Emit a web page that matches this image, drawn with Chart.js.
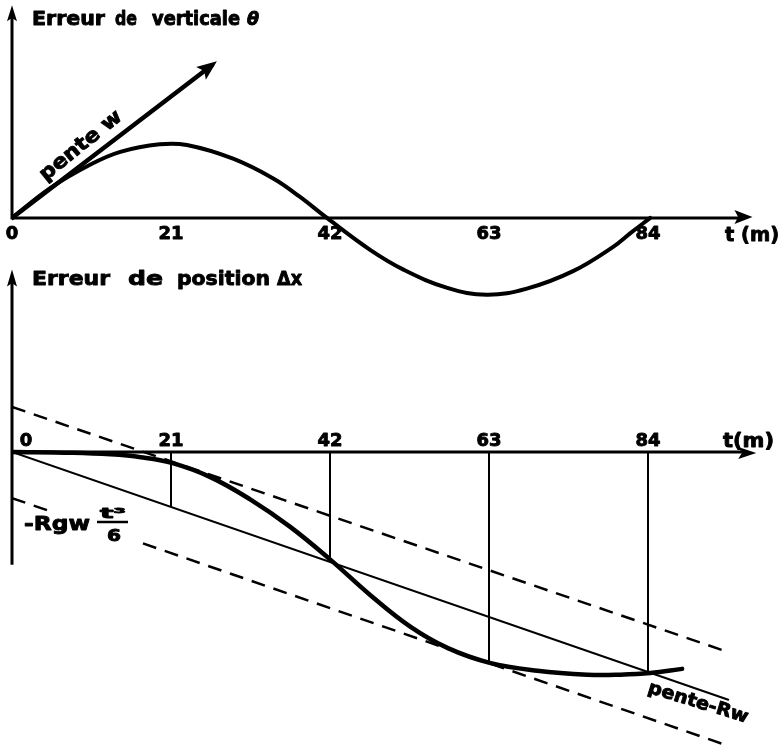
<!DOCTYPE html>
<html><head><meta charset="utf-8">
<script src="https://cdn.jsdelivr.net/npm/chart.js@4.4.0/dist/chart.umd.min.js"></script>
<style>
html,body{margin:0;padding:0;background:#fff;}
#wrap{position:relative;width:784px;height:751px;overflow:hidden;background:#fff;}
#c1{position:absolute;left:0;top:0;}
#c2{position:absolute;left:0;top:250px;}
</style></head><body>
<div id="wrap">
<canvas id="c1" width="784" height="310"></canvas>
<canvas id="c2" width="784" height="501"></canvas>
</div>
<script>
// ---------- data ----------
const tickValues = [0, 21, 42, 63, 84];
const tickLabels = ['0', '21', '42', '63', '84'];

// top: vertical error theta (arbitrary units)
const thetaT    = [0, 5, 10.3, 14.3, 19.5, 23.1, 29.2, 34.5, 38, 41.6, 47.3, 51.7, 57.5, 62.7, 68, 74.1, 79.4, 81.8, 84.3];
const thetaVals = [0, 0.39, 0.70, 0.87, 0.97, 0.96, 0.78, 0.52, 0.28, 0, -0.42, -0.68, -0.92, -1.01, -0.93, -0.70, -0.38, -0.19, 0];
const penteWT    = [0, 26.4];
const penteWVals = [0, 2.01];

// bottom: position error dx (arbitrary units)
const posT    = [0, 8, 13, 17, 21.1, 26.2, 31.4, 36.7, 42, 47.3, 52.6, 57.5, 63.1, 69.4, 76, 80.3, 84.3, 88.5];
const posVals = [0, -0.3, -0.9, -2.0, -4.2, -9.6, -18.0, -28.5, -41.0, -54.6, -66.7, -74.8, -80.5, -83.5, -85.0, -85.0, -84.4, -82.8];
const slopeT    = [0, 94.6];
const slopeVals = [0, -94.6];
const upperDashT    = [0, 94.5];
const upperDashVals = [17.2, -76.3];
const lowerDashT    = [0, 5.3, 11, 17.3, 94.6];
const lowerDashVals = [-17.6, -22.9, null, -34.9, -112.2];
const verticalT    = [21, 42, 63, 84];
const verticalEnds = [-21, -41.2, -80.2, -84];

// ---------- helpers ----------
const FONT = '"DejaVu Sans", "Liberation Sans", sans-serif';
function series(ts, vs, width, dash, smooth) {
  return {
    data: ts.map((t, i) => ({ x: t, y: vs[i] })),
    showLine: true, borderColor: '#000', backgroundColor: '#000',
    borderWidth: width, borderDash: dash || [], pointRadius: 0, fill: false,
    borderCapStyle: dash ? 'butt' : 'round', borderJoinStyle: 'round',
    cubicInterpolationMode: 'default', tension: smooth ? 0.4 : 0, spanGaps: false
  };
}
function verticalSeries() {
  const d = [];
  verticalT.forEach((t, i) => { d.push({ x: t, y: 0 }, { x: t, y: verticalEnds[i] }, { x: t, y: null }); });
  return { data: d, showLine: true, borderColor: '#000', borderWidth: 2, pointRadius: 0, spanGaps: false, tension: 0 };
}
function arrowHead(ctx, x1, y1, x2, y2, len, half) {
  const a = Math.atan2(y2 - y1, x2 - x1);
  ctx.save();
  ctx.translate(x2, y2); ctx.rotate(a);
  ctx.beginPath(); ctx.moveTo(0, 0); ctx.lineTo(-len, -half); ctx.lineTo(-len * 0.8, 0); ctx.lineTo(-len, half); ctx.closePath();
  ctx.fillStyle = '#000'; ctx.fill();
  ctx.restore();
}
function line(ctx, x1, y1, x2, y2, w) {
  ctx.save(); ctx.strokeStyle = '#000'; ctx.lineWidth = w; ctx.lineCap = 'butt';
  ctx.beginPath(); ctx.moveTo(x1, y1); ctx.lineTo(x2, y2); ctx.stroke(); ctx.restore();
}
function paint(ctx, txt) {
  ctx.fillStyle = '#000'; ctx.strokeStyle = '#000'; ctx.lineWidth = 0.9; ctx.lineJoin = 'round';
  ctx.fillText(txt, 0, 0); ctx.strokeText(txt, 0, 0);
}
function fitText(ctx, txt, x, y, w, size, style) {
  ctx.save();
  ctx.font = (style || 'bold') + ' ' + size + 'px ' + FONT;
  ctx.textAlign = 'left'; ctx.textBaseline = 'alphabetic';
  const m = ctx.measureText(txt).width;
  ctx.translate(x, y); if (w) ctx.scale(w / m, 1);
  paint(ctx, txt);
  ctx.restore();
}
function centerText(ctx, txt, cx, y, size) {
  ctx.save(); ctx.font = 'bold ' + size + 'px ' + FONT;
  ctx.textAlign = 'center'; ctx.textBaseline = 'alphabetic';
  ctx.translate(cx, y); paint(ctx, txt); ctx.restore();
}
function rotText(ctx, txt, cx, cy, deg, size, w) {
  ctx.save(); ctx.font = 'bold ' + size + 'px ' + FONT;
  ctx.textAlign = 'center'; ctx.textBaseline = 'middle';
  const m = ctx.measureText(txt).width;
  ctx.translate(cx, cy); ctx.rotate(deg * Math.PI / 180); if (w) ctx.scale(w / m, 1);
  paint(ctx, txt); ctx.restore();
}
function makeChart(id, datasets, yMin, yMax, pad, decor) {
  return new Chart(document.getElementById(id), {
    type: 'scatter',
    data: { datasets },
    options: {
      responsive: false, animation: false, events: [],
      layout: { padding: pad },
      plugins: { legend: { display: false }, tooltip: { enabled: false }, title: { display: false } },
      scales: {
        x: { type: 'linear', min: 0, max: 98, display: false },
        y: { type: 'linear', min: yMin, max: yMax, display: false }
      }
    },
    plugins: [decor]
  });
}

// ---------- top chart ----------
const topDecor = {
  id: 'topDecor',
  beforeDatasetsDraw(chart) {
    const ctx = chart.ctx, xs = chart.scales.x, ys = chart.scales.y;
    const x0 = xs.getPixelForValue(0), y0 = ys.getPixelForValue(0);
    const xEnd = xs.getPixelForValue(97.8), yTop = ys.getPixelForValue(2.8);
    line(ctx, x0, y0, xEnd - 10, y0, 3);
    arrowHead(ctx, x0, y0, xEnd, y0 - 1, 18, 7);
    line(ctx, x0, y0 + 1.5, x0, yTop + 10, 3);
    arrowHead(ctx, x0, y0, x0, yTop, 16, 5);
  },
  afterDatasetsDraw(chart) {
    const ctx = chart.ctx, xs = chart.scales.x, ys = chart.scales.y;
    const y0 = ys.getPixelForValue(0);
    const n = penteWT.length - 1;
    const ax1 = xs.getPixelForValue(penteWT[n - 1]), ay1 = ys.getPixelForValue(penteWVals[n - 1]);
    const ax2 = xs.getPixelForValue(penteWT[n]), ay2 = ys.getPixelForValue(penteWVals[n]);
    arrowHead(ctx, ax1, ay1, ax2 + 5, ay2 - 4, 20, 8);
    tickValues.forEach((v, i) => centerText(ctx, tickLabels[i], xs.getPixelForValue(v), y0 + 21, 18));
    fitText(ctx, 't (m)', 725, 241, 54, 20);
    fitText(ctx, 'Erreur', 32, 25, 73, 19);
    fitText(ctx, 'de', 115, 25, 22, 19);
    fitText(ctx, 'verticale', 152, 25, 88, 19);
    fitText(ctx, 'θ', 247, 25, 12, 18, 'bold italic');
    rotText(ctx, 'pente w', 81, 146, -39, 20, 100);
  }
};
makeChart('c1', [
  series(thetaT, thetaVals, 4, null, true),
  series(penteWT, penteWVals, 4.5, null, false)
], -1.08, 2.83, { left: 12, right: 30, top: 3, bottom: 10 }, topDecor);

// ---------- bottom chart ----------
const OFF = 250;
const botDecor = {
  id: 'botDecor',
  beforeDatasetsDraw(chart) {
    const ctx = chart.ctx, xs = chart.scales.x, ys = chart.scales.y;
    const x0 = xs.getPixelForValue(0), y0 = ys.getPixelForValue(0);
    const xEnd = xs.getPixelForValue(98.3), yTop = ys.getPixelForValue(69.6), yBot = ys.getPixelForValue(-43.1);
    line(ctx, x0, y0, xEnd - 10, y0, 3);
    arrowHead(ctx, x0, y0, xEnd, y0 + 1, 18, 6);
    line(ctx, x0, yBot, x0, yTop + 10, 3);
    arrowHead(ctx, x0, y0, x0, yTop, 17, 5);
  },
  afterDatasetsDraw(chart) {
    const ctx = chart.ctx, xs = chart.scales.x, ys = chart.scales.y;
    const y0 = ys.getPixelForValue(0);
    tickValues.forEach((v, i) => {
      const cx = v === 0 ? xs.getPixelForValue(v) + 14 : xs.getPixelForValue(v);
      centerText(ctx, tickLabels[i], cx, y0 - 6, 18);
    });
    fitText(ctx, 't(m)', 723, 447 - OFF, 51, 20);
    fitText(ctx, 'Erreur', 32, 285 - OFF, 78, 20);
    fitText(ctx, 'de', 128, 285 - OFF, 35, 20);
    fitText(ctx, 'position', 177, 285 - OFF, 93, 20);
    fitText(ctx, 'Δx', 277, 285 - OFF, 25, 20);
    fitText(ctx, '-Rgw', 24, 530 - OFF, 66, 20);
    fitText(ctx, 't³', 100, 518 - OFF, 26, 14);
    line(ctx, 97, 522 - OFF, 128, 522 - OFF, 2.5);
    fitText(ctx, '6', 107, 541 - OFF, 14, 16);
    rotText(ctx, 'pente-Rw', 698, 703 - OFF, 17, 18, 104);
  }
};
makeChart('c2', [
  series(upperDashT, upperDashVals, 2.5, [14, 9], false),
  series(lowerDashT, lowerDashVals, 2.5, [14, 9], false),
  series(slopeT, slopeVals, 2, null, false),
  verticalSeries(),
  series(posT, posVals, 4.5, null, true)
], -113.0, 72.5, { left: 12, right: 30, top: 12, bottom: 3 }, botDecor);
</script>
</body></html>
